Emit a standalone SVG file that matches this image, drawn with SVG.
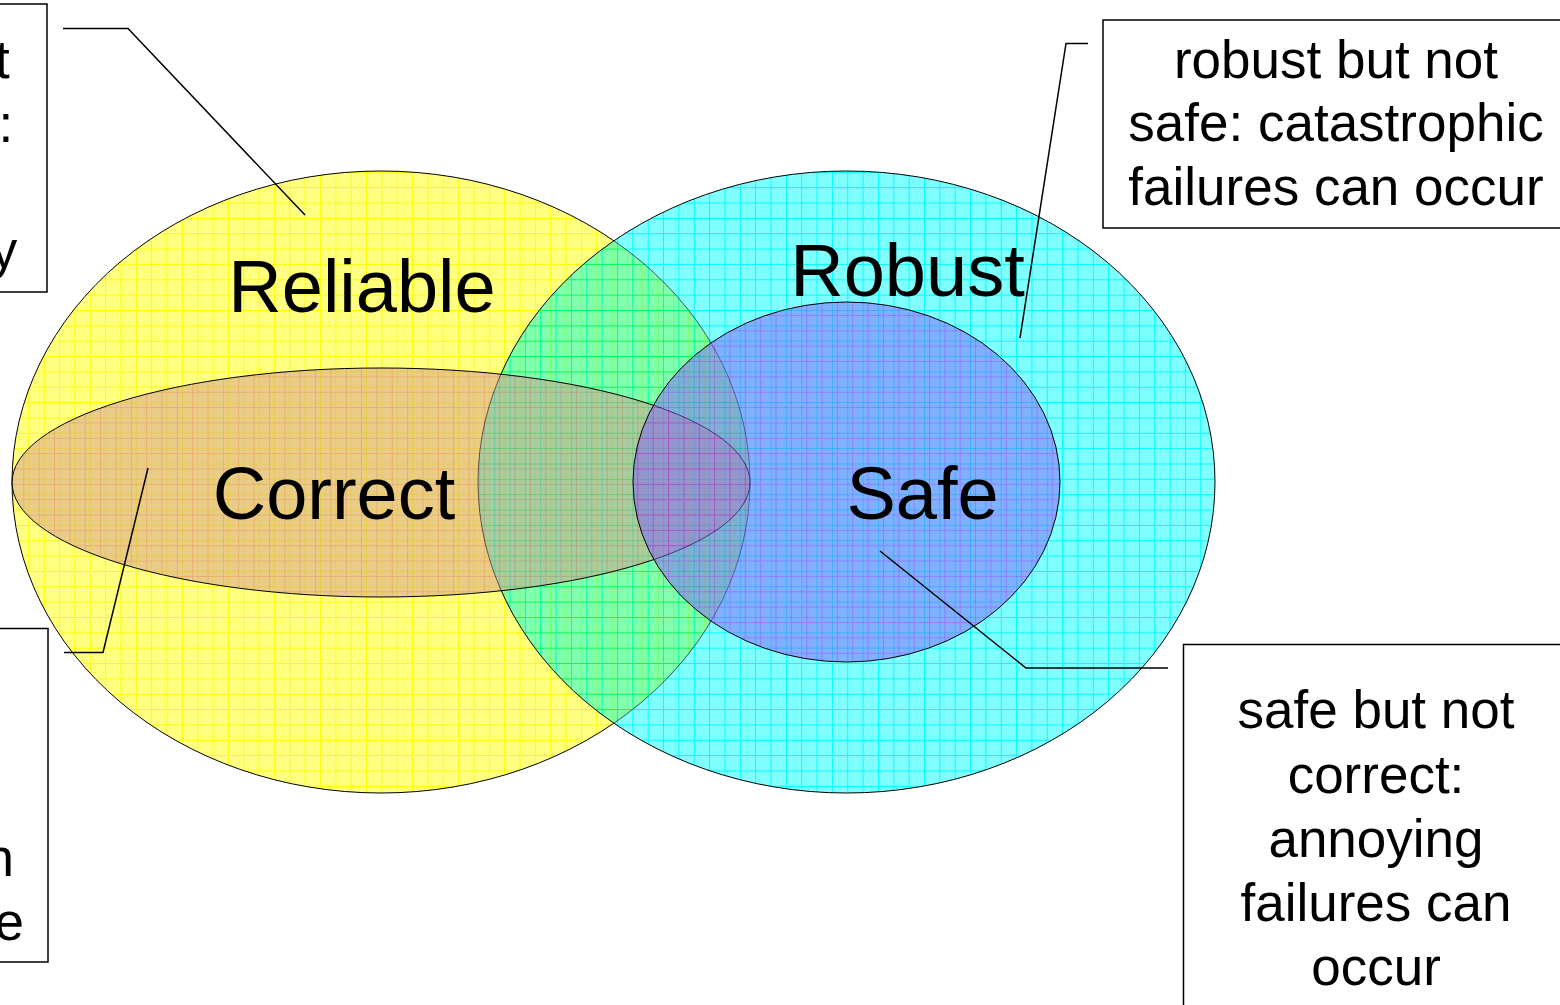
<svg xmlns="http://www.w3.org/2000/svg" width="1560" height="1005" viewBox="0 0 1560 1005">
<style>
text{font-family:"Liberation Sans",Arial,sans-serif;fill:#000}
.big{font-size:74px;text-anchor:middle}
.note{font-size:53px;text-anchor:middle}
.frag{font-size:53px}
.box{fill:#fff;stroke:#000;stroke-width:1.5}
.conn{fill:none;stroke:#000;stroke-width:1.5}
.edge{stroke:#000;stroke-width:1}
</style>
<defs>
<pattern id="pY" width="15.35" height="15.35" patternUnits="userSpaceOnUse" x="13" y="3">
<rect width="15.35" height="15.35" fill="#FFFF80"/>
<path d="M0 0.5H15.35M0.5 0V15.35" stroke="#FFFF00" stroke-width="1"/>
</pattern>
<pattern id="pC" width="15.35" height="15.35" patternUnits="userSpaceOnUse" x="3" y="3">
<rect width="15.35" height="15.35" fill="#80FFFF"/>
<path d="M0 0.5H15.35M0.5 0V15.35" stroke="#00FFFF" stroke-width="1"/>
</pattern>
<pattern id="pO" width="15.35" height="15.35" patternUnits="userSpaceOnUse" x="8" y="8">
<rect width="15.35" height="15.35" fill="#D49A90"/>
<path d="M0 0.5H15.35M0.5 0V15.35" stroke="#D06060" stroke-width="1"/>
</pattern>
<pattern id="pB" width="15.35" height="15.35" patternUnits="userSpaceOnUse" x="8" y="8">
<rect width="15.35" height="15.35" fill="#8061FF"/>
<path d="M0 0.5H15.35M0.5 0V15.35" stroke="#A000FF" stroke-width="1"/>
</pattern>
</defs>

<g id="reliable">
<ellipse class="edge" cx="381" cy="482" rx="369" ry="311" fill="url(#pY)"/>
<text class="big" x="362" y="312">Reliable</text>
</g>
<g id="robust">
<ellipse cx="846.5" cy="482" rx="368.5" ry="311" fill="url(#pC)" style="mix-blend-mode:multiply"/>
<ellipse class="edge" cx="846.5" cy="482" rx="368.5" ry="311" fill="url(#pC)" fill-opacity="0.35"/>
</g>
<g id="correct">
<ellipse class="edge" cx="381" cy="482.5" rx="369" ry="114.5" fill="url(#pO)" fill-opacity="0.5"/>
</g>
<g id="safe">
<ellipse class="edge" cx="846.5" cy="482" rx="213.5" ry="180" fill="url(#pB)" fill-opacity="0.5"/>
</g>
<g id="labels">
<text class="big" x="907.5" y="296">Robust</text>
<text class="big" x="334" y="519">Correct</text>
<text class="big" x="922.5" y="519">Safe</text>
</g>

<g id="connectors">
<polyline class="conn" points="63,28.5 128,28.5 305,215"/>
<polyline class="conn" points="64,652.5 103,652.5 148,468"/>
<polyline class="conn" points="1088,43.5 1066,43.5 1020,338"/>
<polyline class="conn" points="880,551 1026,668 1168,668"/>
</g>

<g id="note-top-left">
<rect class="box" x="-340" y="4" width="387" height="288"/>
<text class="frag" x="-5" y="78">t</text>
<text class="frag" x="-1.6" y="142">:</text>
<text class="frag" x="-9.3" y="268">y</text>
</g>
<g id="note-bottom-left">
<rect class="box" x="-340" y="628.5" width="388" height="333.5"/>
<text class="frag" x="-15.5" y="876">n</text>
<text class="frag" x="-5.5" y="940">e</text>
</g>
<g id="note-top-right">
<rect class="box" x="1103" y="20" width="470" height="208"/>
<text class="note" x="1336" y="78">robust but not</text>
<text class="note" x="1336" y="141">safe: catastrophic</text>
<text class="note" x="1336" y="205">failures can occur</text>
</g>
<g id="note-bottom-right">
<rect class="box" x="1183.5" y="644.5" width="390" height="370"/>
<text class="note" x="1376" y="728">safe but not</text>
<text class="note" x="1376" y="793">correct:</text>
<text class="note" x="1376" y="857">annoying</text>
<text class="note" x="1376" y="921">failures can</text>
<text class="note" x="1376" y="985">occur</text>
</g>
</svg>
